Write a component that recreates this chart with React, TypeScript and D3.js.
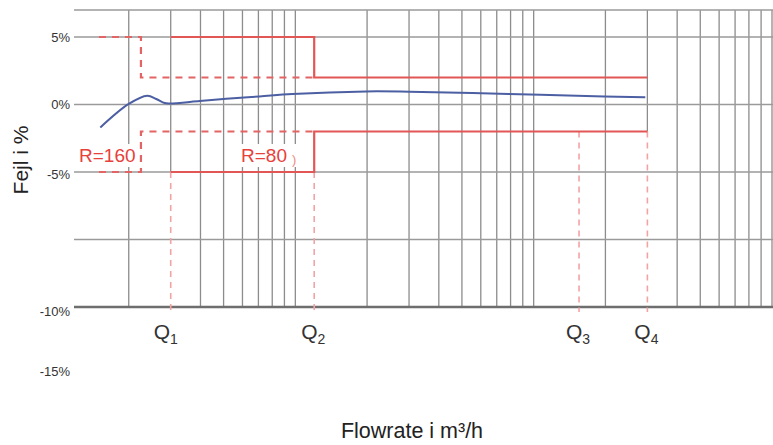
import * as d3 from "d3";

// percent values of horizontal grid lines (top line, labelled lines, bottom)
const yGrid = [7, 5, 0, -5, -10];
const yBottom = -15;
const yTickLabels = ["5%", "0%", "-5%", "-10%", "-15%"];
const yTickAt = [5, 0, -5.2, -15.35, -19.8];

// log grid: 2..10 in each decade
const decades = [1, 10, 100];
const multipliers = [2, 3, 4, 5, 6, 7, 8, 9, 10];

// flowrate points
const qNames = ["1", "2", "3", "4"];
const qValues = [3, 12, 155, 300];
const qTop = [-5, -5, -2, -2];

// error limits
const r80Upper: [number, number][] = [[3, 5], [12, 5], [12, 2], [300, 2]];
const r80Lower: [number, number][] = [[3, -5], [12, -5], [12, -2], [300, -2]];
const r160Upper: [number, number][] = [[1.5, 5], [2.25, 5], [2.25, 2], [12, 2]];
const r160Lower: [number, number][] = [[1.5, -5], [2.25, -5], [2.25, -2], [12, -2]];

// error curve
const curveX = [1.52, 2.0, 2.39, 2.61, 2.83, 2.97, 3.97, 5.13, 7.07, 9.71, 19.8, 30, 78.6, 198, 294];
const curveY = [-1.7, 0.04, 0.65, 0.41, 0.11, 0.08, 0.26, 0.43, 0.6, 0.78, 0.97, 0.95, 0.78, 0.6, 0.53];

const W = 773;
const H = 445;
const font = "'Liberation Sans', Arial, sans-serif";

export default function App() {
  const x = d3.scaleLog().domain([1, 1000]).range([57, 772]);
  const y = d3.scaleLinear().domain([7, -15]).range([10, 307]);
  const left = 74;

  const gridValues = decades.flatMap((d) => multipliers.map((m) => d * m));

  const step = d3
    .line<[number, number]>()
    .x((d) => x(d[0]))
    .y((d) => y(d[1]));

  const curve = d3
    .line<number>()
    .x((d) => x(d))
    .y((_, i) => y(curveY[i]))
    .curve(d3.curveCatmullRom.alpha(0.5));

  return (
    <svg
      width={W}
      height={H}
      style={{ position: "absolute", left: 0, top: 0, background: "#fff" }}
      fontFamily={font}
    >
      {/* vertical grid */}
      {gridValues.map((v) => {
        const qi = qValues.indexOf(v);
        const bottom = qi >= 0 ? y(qTop[qi]) : y(yBottom);
        return (
          <line
            key={"v" + v}
            x1={x(v)}
            x2={x(v)}
            y1={y(7)}
            y2={bottom}
            stroke="#8c8c8c"
            strokeWidth={1.3}
          />
        );
      })}
      {/* horizontal grid */}
      {yGrid.map((v) => (
        <line
          key={"h" + v}
          x1={left}
          x2={W}
          y1={y(v)}
          y2={y(v)}
          stroke="#9a9a9a"
          strokeWidth={1.5}
        />
      ))}
      <line x1={left} x2={W} y1={y(yBottom)} y2={y(yBottom)} stroke="#6e6e6e" strokeWidth={2.5} />

      {/* y tick labels */}
      {yTickLabels.map((t, i) => (
        <text
          key={t}
          x={70}
          y={y(yTickAt[i])}
          textAnchor="end"
          dominantBaseline="central"
          fontSize={13}
          fill="#333"
        >
          {t}
        </text>
      ))}

      {/* Q markers */}
      {qValues.map((q, i) => (
        <line
          key={"q" + i}
          x1={x(q)}
          x2={x(q)}
          y1={y(qTop[i])}
          y2={y(yBottom) + 5}
          stroke="#f2a3a3"
          strokeWidth={1.6}
          strokeDasharray="6,5"
        />
      ))}
      {qValues.map((q, i) => (
        <text key={"ql" + i} x={x(q) - (i === 0 ? 5 : 1)} y={339} textAnchor="middle" fontSize={21} fill="#333">
          Q
          <tspan fontSize={14} dy={5}>
            {qNames[i]}
          </tspan>
        </text>
      ))}

      {/* limits */}
      {[r160Upper, r160Lower].map((d, i) => (
        <path
          key={"r160" + i}
          d={step(d) ?? ""}
          fill="none"
          stroke="#e36464"
          strokeWidth={2.2}
          strokeDasharray="7,6"
        />
      ))}
      {[r80Upper, r80Lower].map((d, i) => (
        <path key={"r80" + i} d={step(d) ?? ""} fill="none" stroke="#e35656" strokeWidth={2.2} />
      ))}

      {/* error curve */}
      <path d={curve(curveX) ?? ""} fill="none" stroke="#4d5fa3" strokeWidth={2} />

      {/* R labels */}
      <rect x={77} y={144} width={61} height={23} fill="#fff" />
      <text x={79} y={162} fontSize={19} fill="#e8403a">
        R=160
      </text>
      <rect x={239} y={144} width={60} height={23} fill="#fff" />
      <text x={241} y={162} fontSize={19} fill="#e8403a">
        R=80
      </text>
      <text x={292} y={164} fontSize={13} fill="#f08a80">
        )
      </text>

      {/* axis titles */}
      <text
        transform="translate(28,160) rotate(-90)"
        textAnchor="middle"
        fontSize={21}
        fill="#222"
      >
        Fejl i %
      </text>
      <text x={412} y={438} textAnchor="middle" fontSize={21.5} fill="#222">
        Flowrate i m³/h
      </text>
    </svg>
  );
}
